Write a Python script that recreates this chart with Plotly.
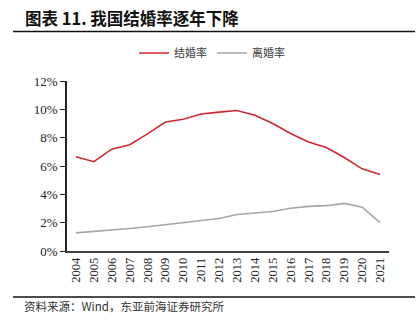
import plotly.graph_objects as go

years = [str(y) for y in range(2004, 2022)]
marriage = [6.65, 6.30, 7.19, 7.50, 8.27, 9.10, 9.30, 9.67, 9.80, 9.92, 9.58, 9.00, 8.30, 7.70, 7.30, 6.60, 5.80, 5.40]
divorce = [1.28, 1.37, 1.46, 1.59, 1.71, 1.85, 2.00, 2.13, 2.29, 2.58, 2.67, 2.79, 3.02, 3.15, 3.20, 3.36, 3.09, 2.01]
yticks = [0, 2, 4, 6, 8, 10, 12]
ytick_labels = [f"{v}%" for v in yticks]

L, R, T, B = 67, 31, 81, 80
W, H = 420, 331
pw, ph = W - L - R, H - T - B

def px(x):
    return (x - L) / pw

def py(y):
    return (H - B - y) / ph

serif = "Liberation Serif, Times New Roman, serif"

fig = go.Figure()
fig.add_trace(go.Scatter(x=years, y=marriage, mode="lines", name="结婚率",
                         line=dict(color="#d0282e", width=1.6)))
fig.add_trace(go.Scatter(x=years, y=divorce, mode="lines", name="离婚率",
                         line=dict(color="#a6a6a6", width=1.6)))

fig.update_layout(
    width=W, height=H,
    margin=dict(l=L, r=R, t=T, b=B),
    paper_bgcolor="white", plot_bgcolor="white",
    showlegend=True,
    legend=dict(orientation="h", x=px(212), xanchor="center", y=py(53), yanchor="middle",
                font=dict(family="Noto Sans CJK SC", size=11, color="#404040"),
                itemwidth=30, tracegroupgap=0, bgcolor="rgba(0,0,0,0)"),
    xaxis=dict(type="category", range=[-0.5, 17.5], showgrid=False, zeroline=False,
               showline=True, linecolor="#404040", linewidth=1.5, ticks="",
               tickangle=-90, tickfont=dict(family=serif, size=12.5, color="#222")),
    yaxis=dict(range=[0, 12], tickvals=yticks, ticktext=ytick_labels, showgrid=False,
               zeroline=False, showline=True, linecolor="#222", linewidth=1.5,
               ticks="outside", ticklen=5, tickcolor="#222",
               tickfont=dict(family=serif, size=13, color="#222")),
)

fig.add_annotation(text="<b>图表 11. 我国结婚率逐年下降</b>", xref="paper", yref="paper",
                   x=px(23), y=py(18), xanchor="left", yanchor="middle", showarrow=False,
                   font=dict(family="Noto Sans CJK SC", size=16.5, color="#111"))
fig.add_annotation(text="资料来源：Wind，东亚前海证券研究所", xref="paper", yref="paper",
                   x=px(22), y=py(306), xanchor="left", yanchor="middle", showarrow=False,
                   font=dict(family="Noto Sans CJK SC", size=11.5, color="#333"))
fig.add_shape(type="line", xref="paper", yref="paper", x0=px(13), x1=px(415),
              y0=py(31.5), y1=py(31.5), line=dict(color="#111", width=1.5))
fig.add_shape(type="line", xref="paper", yref="paper", x0=px(13), x1=px(415),
              y0=py(297), y1=py(297), line=dict(color="#111", width=1.5))

fig.write_html("out.html")
